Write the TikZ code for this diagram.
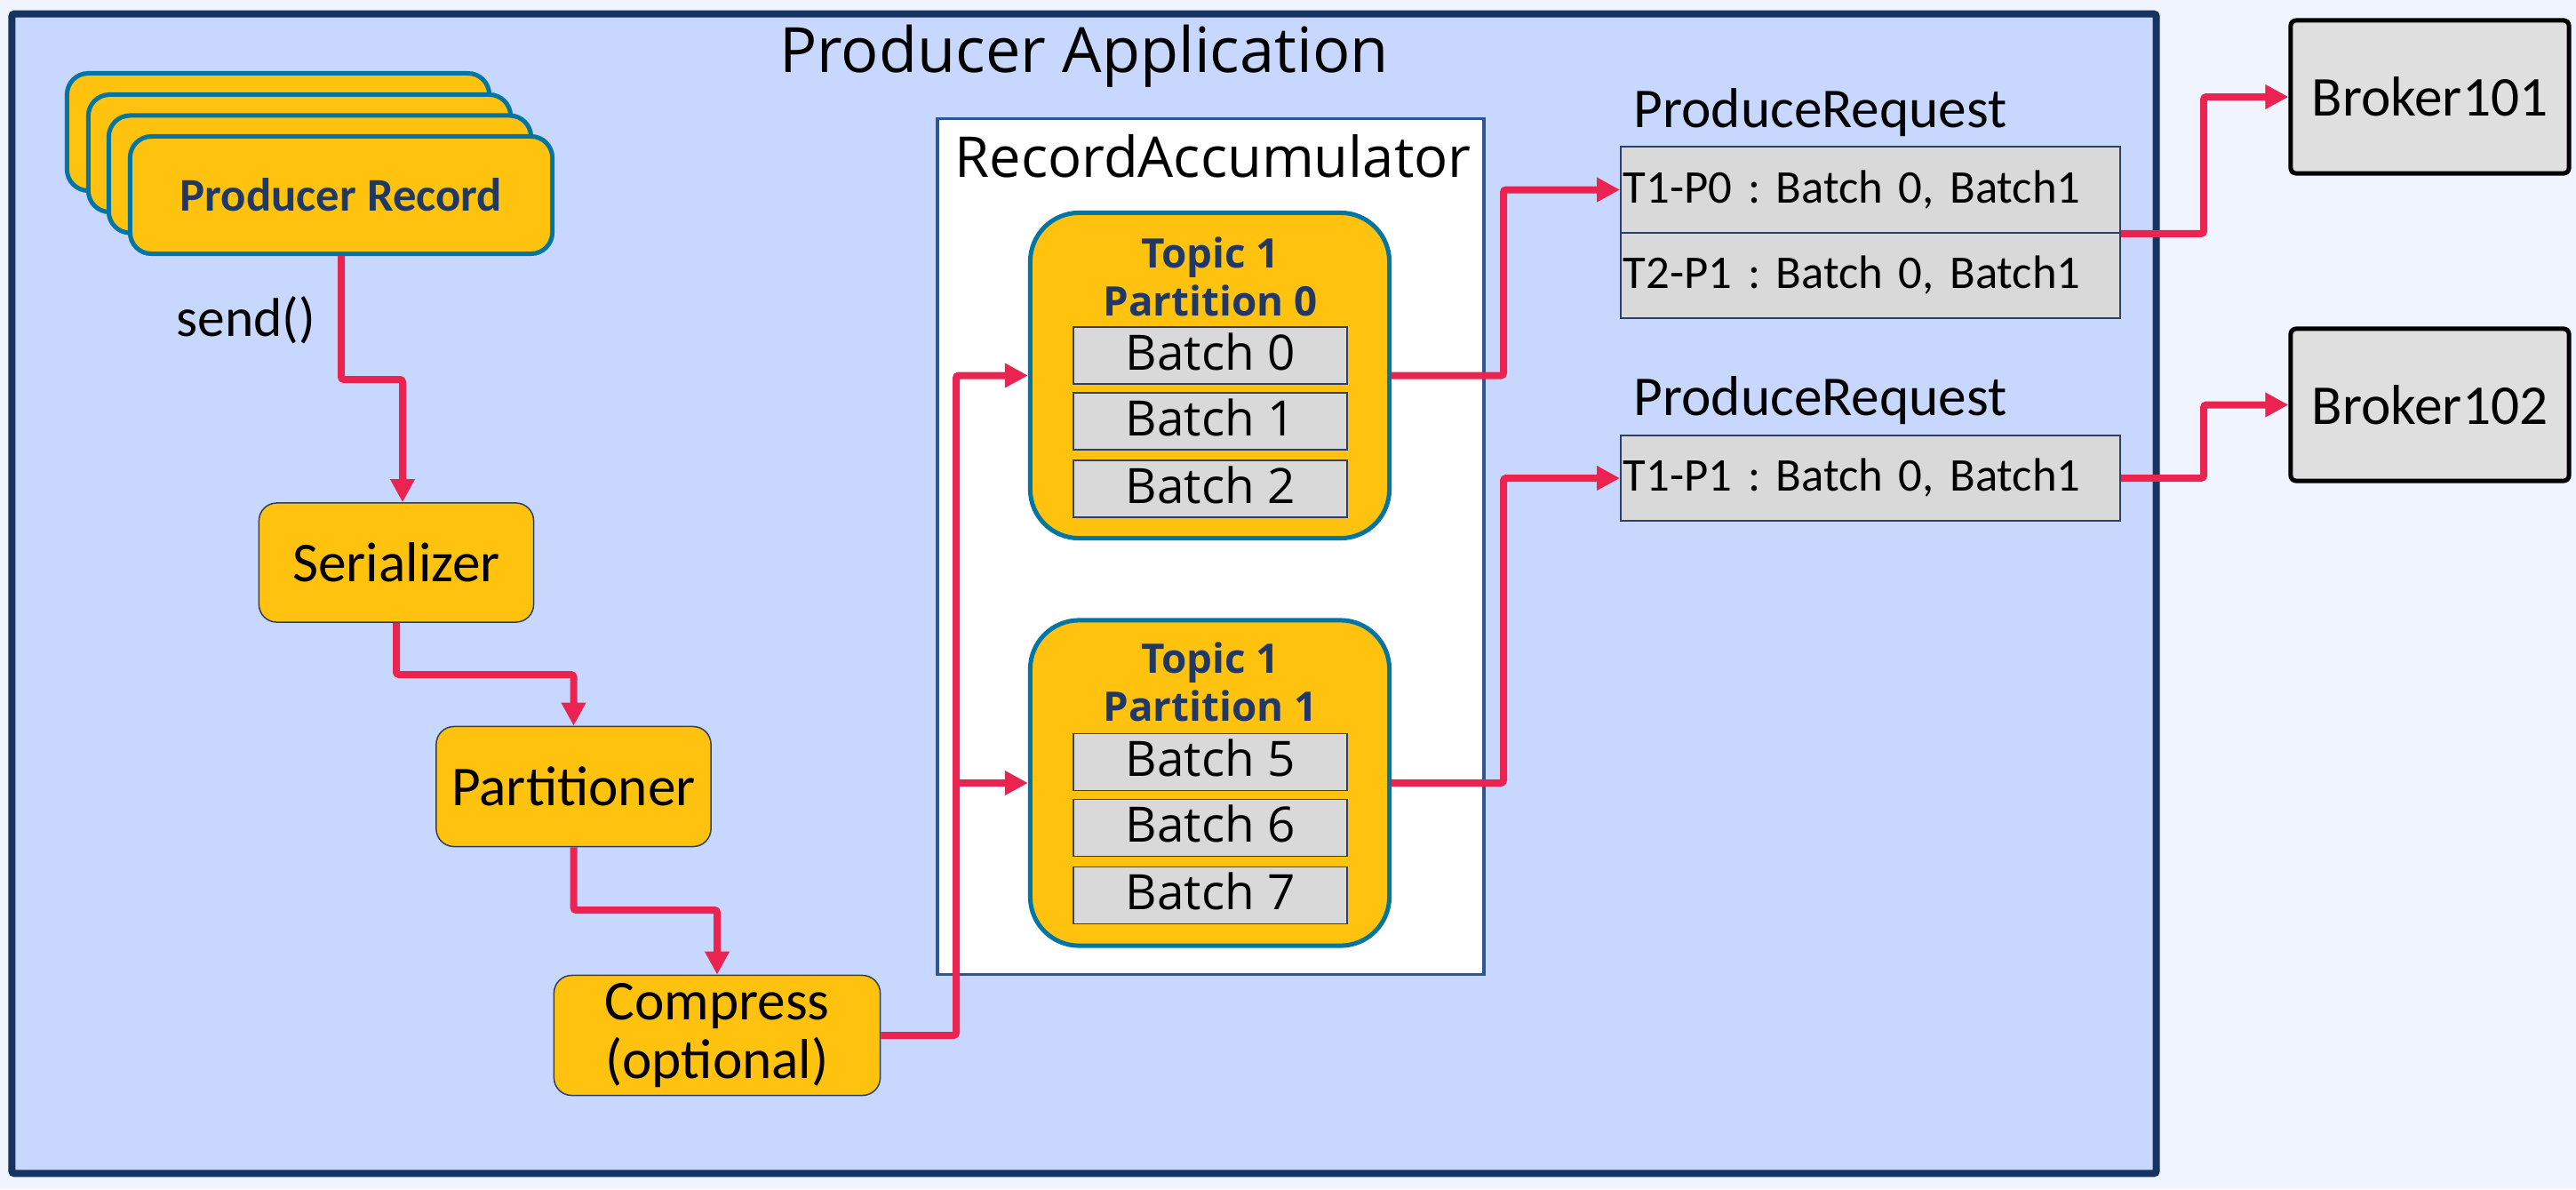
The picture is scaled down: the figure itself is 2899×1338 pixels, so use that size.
\documentclass[tikz,border=0pt]{standalone}
\usepackage{fontspec}
\setmainfont{Carlito}
\newfontfamily\osans{Open Sans}
\usetikzlibrary{arrows.meta}
\definecolor{bgc}{HTML}{F0F4FE}
\definecolor{mainfill}{HTML}{C8D7FD}
\definecolor{navyb}{HTML}{17335F}
\definecolor{yel}{HTML}{FFC20E}
\definecolor{tealc}{HTML}{0176A4}
\definecolor{redc}{HTML}{EA2350}
\definecolor{grayb}{HTML}{D9D9D9}
\definecolor{brokf}{HTML}{DFDFDF}
\definecolor{accb}{HTML}{2F5597}
\definecolor{txtnavy}{HTML}{1F3864}
\definecolor{thinb}{HTML}{2E3F66}
\tikzset{
  card/.style={draw=tealc, line width=0.05cm, fill=yel, rounded corners=0.24cm,
    minimum width=4.75cm, minimum height=1.32cm, inner sep=0},
  procbox/.style={draw=thinb, line width=0.015cm, fill=yel, rounded corners=0.2cm,
    inner sep=0, align=center, font=\fontsize{18}{18.8}\selectfont},
  topicbox/.style={draw=tealc, line width=0.05cm, fill=yel, rounded corners=0.55cm,
    minimum width=4.04cm, minimum height=3.66cm, inner sep=0},
  topicf/.style={inner sep=0, text=txtnavy, font=\osans\bfseries\fontsize{13}{15}\selectfont},
  batchbox/.style={draw=thinb, line width=0.015cm, fill=grayb, minimum width=3.08cm,
    minimum height=0.64cm, inner sep=0, text height=0.48cm, text depth=0.16cm,
    font=\osans\fontsize{15.6}{17}\selectfont},
  prrow/.style={draw=thinb, line width=0.015cm, fill=grayb, minimum width=5.62cm,
    inner xsep=0.03cm, inner ysep=0, text width=5.56cm, align=left,
    font=\frenchspacing\fontsize{15}{17}\selectfont},
  prlabel/.style={inner sep=0, anchor=base west, font=\fontsize{18}{20}\selectfont},
  broker/.style={draw=black, line width=0.05cm, fill=brokf, rounded corners=0.06cm,
    minimum width=3.13cm, inner sep=0, font=\fontsize{18}{20}\selectfont},
  flow/.style={draw=redc, line width=0.08cm, rounded corners=0.03cm,
    -{Triangle[width=0.26cm,length=0.26cm]}},
}
\begin{document}
\begin{tikzpicture}[x=0.01cm,y=-0.01cm]
\fill[bgc] (0,0) rectangle (2899,1338);
\useasboundingbox (0,0) rectangle (2899,1338);

% main application box
\node[draw=navyb, line width=0.08cm, fill=mainfill, rounded corners=0.03cm,
  minimum width=24.12cm, minimum height=13.04cm, inner sep=0] (app) at (1220,668) {};
\node[inner sep=0, anchor=base, font=\osans\fontsize{20}{22}\selectfont] (title) at (1220,81) {Producer Application};

% producer record stack
\node[card] (rec1) at (313,148.5) {};
\node[card] (rec2) at (337,172.5) {};
\node[card] (rec3) at (360,196) {};
\node[card, text=txtnavy, font=\bfseries\fontsize{15}{17}\selectfont] (rec4) at (384,219.5) {Producer Record};
\node[inner sep=0, anchor=base, font=\fontsize{17.5}{19}\selectfont] (send) at (277,378) {send()};

% processing steps
\node[procbox, minimum width=3.09cm, minimum height=1.34cm] (ser) at (446,633) {Serializer};
\node[procbox, minimum width=3.09cm, minimum height=1.35cm] (par) at (645.5,885) {Partitioner};
\node[procbox, minimum width=3.67cm, minimum height=1.35cm] (comp) at (807,1165) {Compress\\(optional)};

% record accumulator
\node[draw=accb, line width=0.035cm, fill=white, minimum width=6.15cm, minimum height=9.62cm, inner sep=0] (acc) at (1362.5,615) {};
\node[inner sep=0, anchor=base, font=\osans\fontsize{18}{20}\selectfont] (acct) at (1365,199) {RecordAccumulator};

\node[topicbox] (t0) at (1361.5,422.5) {};
\node[topicf, anchor=base] (t0a) at (1362,301) {Topic 1};
\node[topicf, anchor=base] (t0b) at (1362,355) {Partition 0};
\node[batchbox] (b0) at (1362,400) {Batch 0};
\node[batchbox] (b1) at (1362,474) {Batch 1};
\node[batchbox] (b2) at (1362,550) {Batch 2};

\node[topicbox] (t1) at (1361.5,881) {};
\node[topicf, anchor=base] (t1a) at (1362,757) {Topic 1};
\node[topicf, anchor=base] (t1b) at (1362,811) {Partition 1};
\node[batchbox] (b5) at (1362,857.5) {Batch 5};
\node[batchbox] (b6) at (1362,931.5) {Batch 6};
\node[batchbox] (b7) at (1362,1007.5) {Batch 7};

% produce requests
\node[prlabel] (pr1l) at (1838,143) {ProduceRequest};
\node[prrow, minimum height=0.97cm] (pr1a) at (2105,213.5) {T1-P0 : Batch 0, Batch1};
\node[prrow, minimum height=0.96cm] (pr1b) at (2105,310) {T2-P1 : Batch 0, Batch1};
\node[prlabel] (pr2l) at (1838,467) {ProduceRequest};
\node[prrow, minimum height=0.96cm] (pr2) at (2105,538) {T1-P1 : Batch 0, Batch1};

% brokers
\node[broker, minimum height=1.72cm] (b101) at (2734.5,109) {Broker101};
\node[broker, minimum height=1.71cm] (b102) at (2734.5,455.5) {Broker102};

% helper coordinates
\coordinate (h1) at (0,427);
\coordinate (h2) at (0,759);
\coordinate (h3) at (0,1024);
\coordinate (bus) at (1076,0);
\coordinate (v1) at (1692,0);
\coordinate (v2) at (2480,0);

% connectors
\draw[flow] (rec4.south) -- (rec4.south |- h1) -| ([xshift=0.07cm]ser.north);
\draw[flow] (ser.south) -- (ser.south |- h2) -| (par.north);
\draw[flow] (par.south) -- (par.south |- h3) -| (comp.north);
\draw[flow] (comp.east) -| (bus |- t0.west) -- (t0.west);
\draw[flow] (bus |- t1.west) -- (t1.west);
\draw[flow] (t0.east) -- (v1 |- t0.east) |- (pr1a.west);
\draw[flow] (t1.east) -- (v1 |- t1.east) |- (pr2.west);
\draw[flow] (pr1a.south east) -- (v2 |- pr1a.south east) |- (b101.west);
\draw[flow] (pr2.east) -- (v2 |- pr2.east) |- (b102.west);
\end{tikzpicture}
\end{document}
